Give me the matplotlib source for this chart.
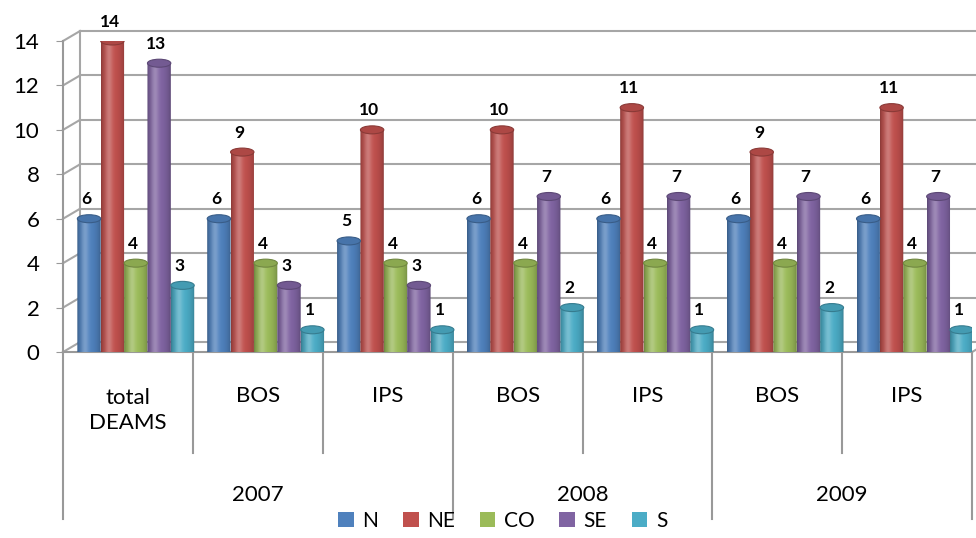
import numpy as np
import matplotlib.pyplot as plt
from matplotlib.patches import Ellipse, PathPatch, Patch
from matplotlib.path import Path

plt.rcParams['font.family'] = ['Lato', 'DejaVu Sans']

# categories (inner level) and their year groups (outer level)
categories = ["total\nDEAMS", "BOS", "IPS", "BOS", "IPS", "BOS", "IPS"]
years = ["2007", "2008", "2009"]
year_spans = [(0, 3), (3, 5), (5, 7)]

regions = ["N", "NE", "CO", "SE", "S"]
N = [6, 6, 5, 6, 6, 6, 6]
NE = [14, 9, 10, 10, 11, 9, 11]
CO = [4, 4, 4, 4, 4, 4, 4]
SE = [13, 3, 3, 7, 7, 7, 7]
S = [3, 1, 1, 2, 1, 2, 1]
series = [N, NE, CO, SE, S]
colors = ["#4F81BD", "#C0504D", "#9BBB59", "#8064A2", "#4BACC6"]

fig = plt.figure(figsize=(9.76, 5.38), dpi=100)
ax = fig.add_axes([0.0646, 0.3457, 0.9314, 0.5781])

# depth offset of the back wall, in data units
DX, DY = 0.131, 0.45
grid_c = "#A6A6A6"


def shaded(rgb, n=40):
    t = np.linspace(0, 1, n)
    body = 0.72 + 0.28 * np.sin(np.pi * t) ** 0.6
    glow = 0.25 * np.exp(-((t - 0.33) / 0.16) ** 2)
    base = np.array(rgb)[None, :] * body[:, None]
    img = base + (1 - base) * glow[:, None]
    return np.clip(img, 0, 1)[None, :, :]


def cylinder(ax, x0, w, h, color):
    rgb = np.array(plt.matplotlib.colors.to_rgb(color))
    ry = 0.18
    th = np.linspace(0, np.pi, 40)
    cx = x0 + w / 2
    arc = np.column_stack([cx - w / 2 * np.cos(th), -ry * np.sin(th)])
    verts = np.vstack([[x0, h], arc, [x0 + w, h], [x0, h]])
    codes = [Path.MOVETO] + [Path.LINETO] * (len(verts) - 2) + [Path.CLOSEPOLY]
    clip = PathPatch(Path(verts, codes), transform=ax.transData,
                     facecolor="none", edgecolor="none")
    ax.add_patch(clip)
    im = ax.imshow(shaded(rgb), extent=[x0, x0 + w, -ry, h], aspect="auto",
                   interpolation="bilinear", zorder=3)
    im.set_clip_path(clip)
    cap = Ellipse((cx, h), w, 2 * ry, facecolor=rgb * 0.9,
                  edgecolor=rgb * 0.72, lw=0.8, zorder=4)
    ax.add_patch(cap)


# back wall gridlines and their links to the front axis
for v in range(0, 15, 2):
    ax.plot([DX, 7.2], [v + DY, v + DY], color=grid_c, lw=1.5, zorder=1, clip_on=False)
    ax.plot([0, DX], [v, v + DY], color=grid_c, lw=1.5, zorder=1, clip_on=False)
ax.plot([DX, DX], [DY, 14 + DY], color=grid_c, lw=1.5, zorder=1, clip_on=False)
ax.plot([7, 7 + DX], [0, DY], color=grid_c, lw=1.5, zorder=1, clip_on=False)

bar_w = 0.18
x = np.arange(len(categories))
for i, (vals, col) in enumerate(zip(series, colors)):
    for j, v in enumerate(vals):
        x0 = x[j] + 0.5 + 0.06 + (i - 2.5) * bar_w
        cylinder(ax, x0, bar_w, v, col)
        ax.annotate(str(v), (x0 + bar_w / 2, v), xytext=(-2, 14),
                    textcoords="offset points", ha="center", va="center",
                    fontsize=12.5, fontweight="bold", color="black", zorder=6)

# two-level category axis below the floor
for k in range(len(categories) + 1):
    bottom = -7.5 if k in (0, 3, 5, 7) else -4.55
    ax.plot([k, k], [0, bottom], color="#999999", lw=1.5, clip_on=False, zorder=1)
for k, lab in enumerate(categories):
    ax.text(k + 0.5, -2.65 if "\n" in lab else -2.0, lab, ha="center", va="center",
            fontsize=16, linespacing=1.3, color="black")
for yr, (a, b) in zip(years, year_spans):
    ax.text((a + b) / 2, -6.45, yr, ha="center", va="center", fontsize=16, color="black")

ax.set_xlim(0, 7)
ax.set_ylim(0, 14)
ax.set_xticks([])
ax.set_yticks(range(0, 15, 2))
ax.tick_params(axis="y", length=5, color="#999999", labelsize=16, pad=12,
               labelcolor="black")
for side in ("top", "right"):
    ax.spines[side].set_visible(False)
for side in ("left", "bottom"):
    ax.spines[side].set_color("#999999")
    ax.spines[side].set_linewidth(1.5)
    ax.spines[side].set_zorder(2)

handles = [Patch(facecolor=c, edgecolor="none") for c in colors]
fig.legend(handles, regions, loc="lower center", bbox_to_anchor=(0.515, -0.022),
           ncol=5, frameon=False, fontsize=15, handlelength=0.75, handleheight=0.75,
           handletextpad=0.4, columnspacing=1.2)

fig.savefig("out.png", dpi=100)
